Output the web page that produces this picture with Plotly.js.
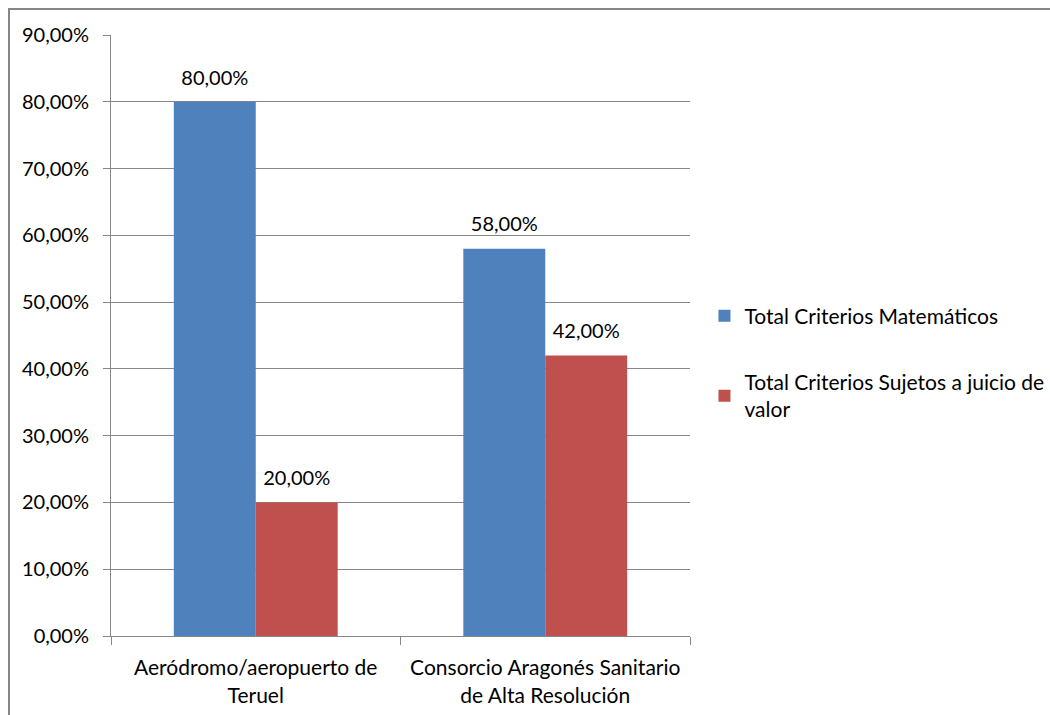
<!DOCTYPE html>
<html>
<head>
<meta charset="utf-8">
<script src="https://cdn.plot.ly/plotly-3.0.1.min.js"></script>
<style>
  html, body { margin: 0; padding: 0; background: #fff; overflow: hidden; }
  #wrap { position: relative; width: 1050px; height: 715px; overflow: hidden; }
  #chart { position: absolute; left: 0; top: 0; width: 1120px; height: 715px; }
  #frame { position: absolute; left: 8px; top: 8px; width: 1100px; height: 800px;
           border-left: 2px solid #868686; border-top: 2px solid #868686; pointer-events: none; }
</style>
</head>
<body>
<div id="wrap">
  <div id="chart"></div>
  <div id="frame"></div>
</div>
<script>
const categories = ["Aeródromo/aeropuerto de<br>Teruel", "Consorcio Aragonés Sanitario<br>de Alta Resolución"];
const seriesNames = ["Total Criterios Matemáticos", "Total Criterios Sujetos a juicio de<br>valor"];
const matematicos = [0.80, 0.58];
const juicioValor = [0.20, 0.42];
const yTicks = [0, 0.1, 0.2, 0.3, 0.4, 0.5, 0.6, 0.7, 0.8, 0.9];

const font = "Lato, 'Open Sans', sans-serif";
const gridColor = "#868686";
const colors = ["#4F81BD", "#C0504D"];
const values = [matematicos, juicioValor];

const traces = [];
values.forEach((v, i) => {
  traces.push({ type: "bar", name: seriesNames[i], x: categories, y: v,
    legendgroup: "g" + i, marker: { color: colors[i] }, hoverinfo: "none" });
});
values.forEach((v, i) => {
  traces.push({ type: "scatter", mode: "markers+text", x: categories, y: v,
    showlegend: false, legendgroup: "g" + i,
    marker: { size: 18, opacity: 0 }, texttemplate: "%{y:.2%}", textposition: "top center",
    textfont: { family: font, size: 20, color: "#000" }, cliponaxis: false, hoverinfo: "none" });
});

const layout = {
  width: 1120, height: 715,
  margin: { l: 111, r: 430, t: 35, b: 79 },
  paper_bgcolor: "#fff", plot_bgcolor: "#fff",
  separators: ",.",
  font: { family: font, size: 20, color: "#000" },
  barmode: "group", scattermode: "group",
  bargap: 0.434, bargroupgap: 0, scattergap: 0.434,
  showlegend: true,
  legend: { x: 1.025, y: 0.455, yanchor: "middle", xanchor: "left",
            font: { family: font, size: 21, color: "#000" },
            tracegroupgap: 36, itemwidth: 30, bgcolor: "rgba(0,0,0,0)" },
  xaxis: { type: "category", showline: true, linecolor: gridColor, linewidth: 1,
           ticks: "outside", tickson: "boundaries", ticklen: 8, tickcolor: gridColor,
           ticklabelstandoff: 13,
           showgrid: false, tickfont: { family: font, size: 21, color: "#000" } },
  yaxis: { range: [0, 0.9], tickvals: yTicks, tickformat: ".2%",
           showline: true, linecolor: gridColor, linewidth: 1,
           ticks: "outside", ticklen: 7, tickcolor: gridColor,
           showgrid: true, gridcolor: gridColor, gridwidth: 1, zeroline: false,
           ticklabelstandoff: 10,
           tickfont: { family: font, size: 20, color: "#000" } }
};

Plotly.newPlot("chart", traces, layout, { displayModeBar: false, staticPlot: true });
</script>
</body>
</html>
